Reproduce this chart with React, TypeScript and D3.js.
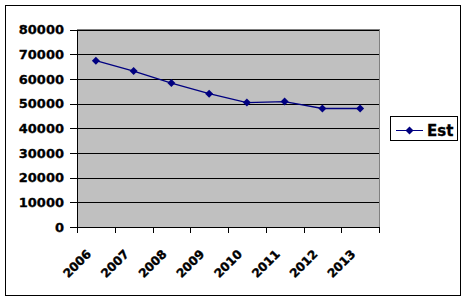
import React from "react";
import * as d3 from "d3";

const categories = ["2006", "2007", "2008", "2009", "2010", "2011", "2012", "2013"];
const estValues = [67350, 63150, 58300, 54000, 50400, 50800, 48000, 48000];
const yTicks = [0, 10000, 20000, 30000, 40000, 50000, 60000, 70000, 80000];
const seriesName = "Est";

export default function App() {
  const W = 468, H = 301;
  const left = 77, right = 379, top = 29.5, bottom = 227;
  const x = d3.scaleBand<string>().domain(categories).range([left, right]);
  const y = d3.scaleLinear().domain([0, 80000]).range([bottom, top]);
  const line = d3
    .line<number>()
    .x((_, i) => (x(categories[i]) as number) + x.bandwidth() / 2)
    .y((d) => y(d));
  const font = "'DejaVu Sans', Arial, sans-serif";
  const diamond = (cx: number, cy: number) =>
    `M${cx},${cy - 4}L${cx + 4},${cy}L${cx},${cy + 4}L${cx - 4},${cy}Z`;
  return (
    <svg
      width={W}
      height={H}
      style={{ position: "absolute", left: 0, top: 0 }}
      shapeRendering="crispEdges"
    >
      <rect x={0} y={0} width={W} height={H} fill="#fff" />
      <rect x={5.5} y={5.5} width={455} height={289.5} fill="#fff" stroke="#000" strokeWidth={1} />
      <rect x={left} y={top} width={right - left} height={bottom - top} fill="#C0C0C0" stroke="#808080" strokeWidth={1} />
      {yTicks.map((t) => (
        <g key={t}>
          <line x1={left} x2={right} y1={Math.round(y(t)) + 0.5} y2={Math.round(y(t)) + 0.5} stroke="#000" />
          <line x1={left - 7} x2={left} y1={Math.round(y(t)) + 0.5} y2={Math.round(y(t)) + 0.5} stroke="#000" />
          <text
            x={left - 13}
            y={y(t)}
            dy="0.36em"
            textAnchor="end"
            fontFamily={font}
            fontWeight="bold"
            fontSize={13}
            fill="#000"
            stroke="#000"
            strokeWidth={0.3}
          >
            {t}
          </text>
        </g>
      ))}
      <line x1={left + 0.5} x2={left + 0.5} y1={top} y2={bottom + 6} stroke="#000" />
      <line x1={left} x2={right} y1={Math.round(bottom) + 0.5} y2={Math.round(bottom) + 0.5} stroke="#000" />
      {categories.map((c) => (
        <line
          key={"t" + c}
          x1={Math.round(x(c) as number) + 0.5}
          x2={Math.round(x(c) as number) + 0.5}
          y1={bottom}
          y2={bottom + 6}
          stroke="#000"
        />
      ))}
      <line x1={right + 0.5} x2={right + 0.5} y1={bottom} y2={bottom + 6} stroke="#000" />
      {categories.map((c) => {
        const cx = (x(c) as number) + x.bandwidth() / 2;
        return (
          <text
            key={"l" + c}
            transform={`translate(${cx - 10},${bottom + 22}) rotate(-45)`}
            textAnchor="end"
            dy="0.7em"
            fontFamily={font}
            fontWeight="bold"
            fontSize={12}
            fill="#000"
            stroke="#000"
            strokeWidth={0.4}
          >
            {c}
          </text>
        );
      })}
      <g shapeRendering="auto">
        <path d={line(estValues) || ""} fill="none" stroke="#000080" strokeWidth={1.3} />
        {estValues.map((v, i) => (
          <path
            key={i}
            d={diamond((x(categories[i]) as number) + x.bandwidth() / 2, y(v))}
            fill="#000080"
          />
        ))}
      </g>
      <rect x={390.5} y={116.5} width={67} height={24} fill="#fff" stroke="#000" />
      <line x1={396} x2={423} y1={130.5} y2={130.5} stroke="#000080" strokeWidth={1.3} />
      <g shapeRendering="auto">
        <path d={diamond(409.5, 130.5)} fill="#000080" />
      </g>
      <text x={427} y={130.5} dy="0.36em" fontFamily={font} fontWeight="bold" fontSize={15} fill="#000" stroke="#000" strokeWidth={0.3}>
        {seriesName}
      </text>
    </svg>
  );
}
